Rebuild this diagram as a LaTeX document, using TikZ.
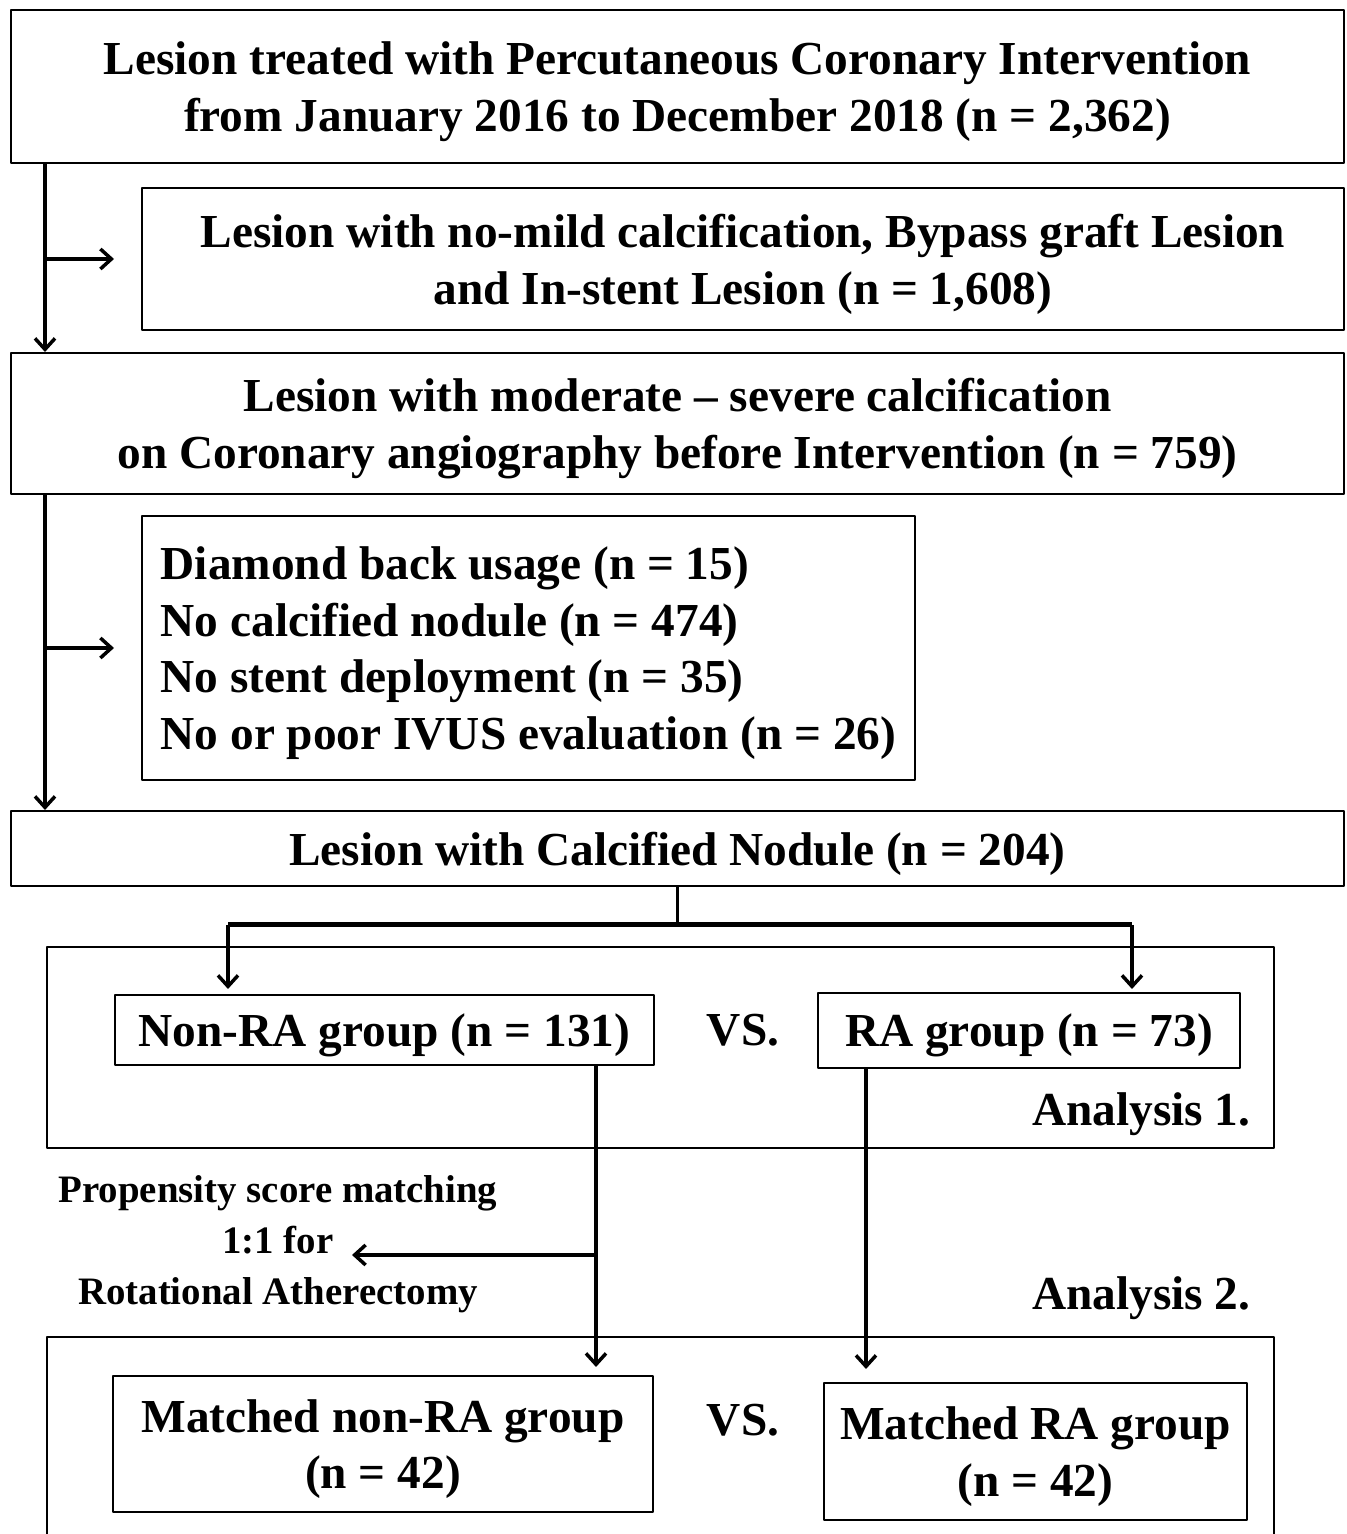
\documentclass[tikz,border=0pt]{standalone}
\usepackage{fontspec}
\setmainfont{Liberation Serif}
\usetikzlibrary{arrows.meta}
\tikzset{
  boxnode/.style={draw,line width=2bp,inner sep=0pt,align=center,font=\bigtxt,text depth=0pt},
  flow/.style={line width=3.5bp},
}
\newcommand{\bigtxt}{\fontsize{47.5}{57}\selectfont\bfseries}
\newcommand{\smalltxt}{\fontsize{39}{51}\selectfont\bfseries}
\begin{document}
\begin{tikzpicture}[>={Straight Barb[length=11bp,width=20bp]},line join=bevel,]
\useasboundingbox (0bp,0bp) rectangle (1347bp,1534bp);
%%
\node (box_all) at (677.5bp,1447.5bp) [boxnode,minimum width=1333bp,minimum height=153bp] {Lesion treated with Percutaneous Coronary Intervention\\ from January 2016 to December 2018 (n = 2,362)};
  \node (box_excl1) at (743bp,1275bp) [boxnode,minimum width=1202bp,minimum height=142bp] {Lesion with no-mild calcification, Bypass graft Lesion\\ and In-stent Lesion (n = 1,608)};
  \node (box_calc) at (677.5bp,1110.5bp) [boxnode,minimum width=1333bp,minimum height=141bp] {Lesion with moderate -- severe calcification\\ on Coronary angiography before Intervention (n = 759)};
  \node (box_excl2) at (528.5bp,886bp) [boxnode,minimum width=773bp,minimum height=264bp,align=left] {Diamond back usage (n = 15)\\ No calcified nodule (n = 474)\\ No stent deployment (n = 35)\\ No or poor IVUS evaluation (n = 26)};
  \node (box_cn) at (677.5bp,685.5bp) [boxnode,minimum width=1333bp,minimum height=75bp] {Lesion with Calcified Nodule (n = 204)};
%
\node (box_an1) at (660.5bp,486.5bp) [boxnode,minimum width=1227bp,minimum height=201bp] {};
  \node (box_nonra) at (384.5bp,504bp) [boxnode,minimum width=539bp,minimum height=70bp] {Non-RA group (n = 131)};
  \node (box_ra) at (1029bp,503.5bp) [boxnode,minimum width=422bp,minimum height=75bp] {RA group (n = 73)};
  \node (vs_1) at (743bp,504bp) [draw=none,font=\bigtxt] {VS.};
  \node (lab_an1) at (1254bp,420bp) [draw=none,anchor=east,font=\bigtxt] {Analysis 1.};
%
\node (lab_psm) at (278bp,290bp) [draw=none,align=center,font=\smalltxt] {Propensity score matching\\ 1:1 for\\ Rotational Atherectomy};
  \node (lab_an2) at (1254bp,236bp) [draw=none,anchor=east,font=\bigtxt] {Analysis 2.};
%
\node (box_an2) at (660.5bp,84bp) [boxnode,minimum width=1227bp,minimum height=226bp] {};
  \node (box_mnonra) at (383bp,90bp) [boxnode,minimum width=540bp,minimum height=136bp] {Matched non-RA group\\ (n = 42)};
  \node (box_mra) at (1035.5bp,82.5bp) [boxnode,minimum width=423bp,minimum height=137bp] {Matched RA group\\ (n = 42)};
  \node (vs_2) at (743bp,114bp) [draw=none,font=\bigtxt] {VS.};
%%
\coordinate (c_split1) at (45bp,1275bp);
  \coordinate (c_split2) at (45bp,886bp);
  \coordinate (c_fork) at (677.5bp,609bp);
  \coordinate (c_left) at (228bp,609bp);
  \coordinate (c_right) at (1132bp,609bp);
  \coordinate (c_psm) at (596bp,279bp);
  \coordinate (c_rad) at (866bp,466bp);
%
\draw [flow,->] (box_all.south -| c_split1) -- (box_calc.north -| c_split1);
  \draw [flow,->,shorten >=27bp] (c_split1) -- (box_excl1.west |- c_split1);
  \draw [flow,->] (box_calc.south -| c_split2) -- (box_cn.north -| c_split2);
  \draw [flow,->,shorten >=27bp] (c_split2) -- (box_excl2.west |- c_split2);
  \draw [line width=3bp] (box_cn.south) -- (c_fork);
  \draw [line width=5bp] (c_left) -- (c_right);
  \draw [flow,->,shorten >=5bp] (c_left) -- (box_nonra.north -| c_left);
  \draw [flow,->,shorten >=3bp] (c_right) -- (box_ra.north -| c_right);
  \draw [flow,->,shorten >=8bp] (box_nonra.south -| c_psm) -- (box_mnonra.north -| c_psm);
  \draw [flow,->,shorten >=74bp] (c_psm) -- (lab_psm.center |- c_psm);
  \draw [flow,->,shorten >=13bp] (c_rad) -- (box_mra.north -| c_rad);
%
\end{tikzpicture}
\end{document}
